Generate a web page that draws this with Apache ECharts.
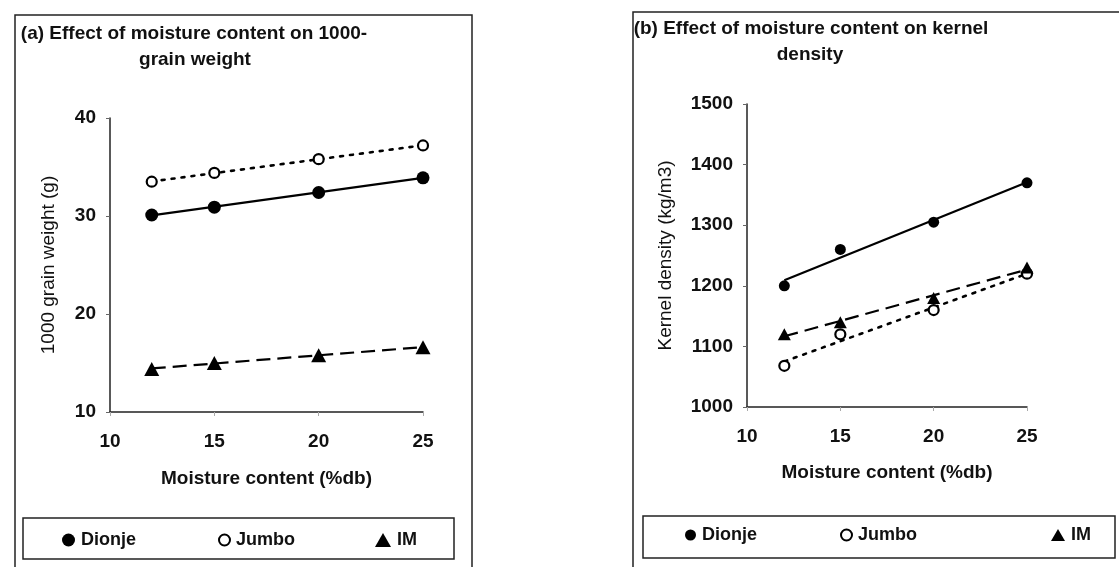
<!DOCTYPE html>
<html>
<head>
<meta charset="utf-8">
<script src="https://cdn.jsdelivr.net/npm/echarts@6/dist/echarts.min.js"></script>
<style>html,body{margin:0;padding:0;background:#fff}#c{width:1119px;height:567px}</style>
</head>
<body>
<div id="c"></div>
<script>
// ---- data ----
const xMoisture = [12, 15, 20, 25];
const xTicks = [10, 15, 20, 25];
const weightDionje = [30.1, 30.9, 32.4, 33.9];
const weightJumbo = [33.5, 34.4, 35.8, 37.2];
const weightIM = [14.4, 15.0, 15.8, 16.6];
const densityDionje = [1200, 1260, 1305, 1370];
const densityJumbo = [1068, 1120, 1160, 1220];
const densityIM = [1120, 1140, 1180, 1230];
const seriesNames = ['Dionje', 'Jumbo', 'IM'];
const titleA = ['(a) Effect of moisture content on 1000-', 'grain weight'];
const titleB = ['(b) Effect of moisture content on kernel', 'density'];

const FONT = '"Liberation Sans", Arial, sans-serif';

function pairs(xs, ys) { return xs.map((x, i) => [x, ys[i]]); }
// linear trendline (least squares) across the data range
function trend(xs, ys) {
  const n = xs.length;
  const mx = xs.reduce((a, b) => a + b, 0) / n;
  const my = ys.reduce((a, b) => a + b, 0) / n;
  let sxy = 0, sxx = 0;
  for (let i = 0; i < n; i++) { sxy += (xs[i] - mx) * (ys[i] - my); sxx += (xs[i] - mx) ** 2; }
  const b = sxy / sxx, a = my - b * mx;
  const x0 = Math.min(...xs), x1 = Math.max(...xs);
  return [[x0, a + b * x0], [x1, a + b * x1]];
}

const styles = {
  Dionje: { symbol: 'circle', item: { color: '#000', opacity: 1 }, line: { type: 'solid', width: 2.2 } },
  Jumbo: { symbol: 'circle', item: { color: '#fff', borderColor: '#000', borderWidth: 2.2, opacity: 1 }, line: { type: [3, 7], width: 2.6, cap: 'round' } },
  IM: { symbol: 'triangle', item: { color: '#000', opacity: 1 }, line: { type: [14, 7], width: 2.2 } }
};

function buildSeries(gi, dataSets, sizes) {
  const out = [];
  seriesNames.forEach((nm, k) => {
    out.push({
      type: 'line', xAxisIndex: gi, yAxisIndex: gi, name: nm + ' trend',
      data: trend(xMoisture, dataSets[k]), showSymbol: false, silent: true,
      lineStyle: Object.assign({ color: '#000' }, styles[nm].line), z: 2
    });
  });
  seriesNames.forEach((nm, k) => {
    out.push({
      type: 'scatter', xAxisIndex: gi, yAxisIndex: gi, name: nm,
      data: pairs(xMoisture, dataSets[k]), symbol: styles[nm].symbol,
      symbolSize: sizes[k], itemStyle: styles[nm].item, z: 3
    });
  });
  return out;
}

function xAxis(gi, gap) {
  return {
    type: 'value', gridIndex: gi, min: 10, max: 25, interval: 5,
    name: 'Moisture content (%db)', nameLocation: 'middle', nameGap: gap,
    nameTextStyle: { fontFamily: FONT, fontSize: 19, fontWeight: 'bold', color: '#111' },
    axisLine: { lineStyle: { color: '#222', width: 1.5 } },
    axisTick: { show: true, length: 4, lineStyle: { color: '#aaa' } },
    axisLabel: { fontFamily: FONT, fontSize: 19, fontWeight: 'bold', color: '#111', margin: 20,
      formatter: v => xTicks.includes(v) ? String(v) : '' },
    splitLine: { show: false }
  };
}
function yAxis(gi, min, max, interval, name, gap) {
  return {
    type: 'value', gridIndex: gi, min, max, interval,
    name, nameLocation: 'middle', nameGap: gap, nameRotate: 90,
    nameTextStyle: { fontFamily: FONT, fontSize: 19, color: '#111' },
    axisLine: { show: true, lineStyle: { color: '#222', width: 1.5 } },
    axisTick: { show: true, length: 4, lineStyle: { color: '#666' } },
    axisLabel: { fontFamily: FONT, fontSize: 19, fontWeight: 'bold', color: '#111', margin: 14,
      formatter: v => String(v) },
    splitLine: { show: false }
  };
}

function legend(name, left, top, w, h) {
  return {
    data: [name], left, top, padding: 0, itemWidth: w, itemHeight: h, itemGap: 0,
    selectedMode: false,
    textStyle: { fontFamily: FONT, fontSize: 18, fontWeight: 'bold', color: '#111', padding: [0, 0, 0, 1] }
  };
}

const chart = echarts.init(document.getElementById('c'), null, { renderer: 'canvas' });
const txt = (t, x, y, size) => ({
  type: 'text', x, y, style: { text: t, font: 'bold ' + size + 'px ' + FONT, fill: '#111', align: 'center', verticalAlign: 'middle' }
});
chart.setOption({
  animation: false,
  backgroundColor: '#fff',
  grid: [
    { left: 110, top: 118, width: 313, height: 294 },
    { left: 747, top: 104, width: 280, height: 303 }
  ],
  xAxis: [xAxis(0, 57), xAxis(1, 56)],
  yAxis: [
    yAxis(0, 10, 40, 10, '1000 grain weight (g)', 52),
    yAxis(1, 1000, 1500, 100, 'Kernel density (kg/m3)', 72)
  ],
  legend: [
    legend('Dionje', 62, 531, 13, 13),
    legend('Jumbo', 218, 531, 11, 11),
    legend('IM', 375, 531, 16, 14),
    legend('Dionje', 685, 526, 11, 11),
    legend('Jumbo', 840, 526, 11, 11),
    legend('IM', 1051, 526, 14, 12)
  ],
  graphic: [
    { type: 'rect', shape: { x: 15, y: 15, width: 457, height: 600 }, style: { fill: 'none', stroke: '#222', lineWidth: 1.5 }, z: -1 },
    { type: 'rect', shape: { x: 633, y: 12, width: 520, height: 600 }, style: { fill: 'none', stroke: '#222', lineWidth: 1.5 }, z: -1 },
    { type: 'rect', shape: { x: 23, y: 518, width: 431, height: 41 }, style: { fill: 'none', stroke: '#222', lineWidth: 1.5 }, z: -1 },
    { type: 'rect', shape: { x: 643, y: 516, width: 472, height: 42 }, style: { fill: 'none', stroke: '#222', lineWidth: 1.5 }, z: -1 },
    txt(titleA[0], 194, 34, 19), txt(titleA[1], 195, 60, 19),
    txt(titleB[0], 811, 29, 19), txt(titleB[1], 810, 55, 19)
  ],
  series: [].concat(
    buildSeries(0, [weightDionje, weightJumbo, weightIM], [13, 10, [15, 14]]),
    buildSeries(1, [densityDionje, densityJumbo, densityIM], [11, 10, [13, 12]])
  )
});
</script>
</body>
</html>
